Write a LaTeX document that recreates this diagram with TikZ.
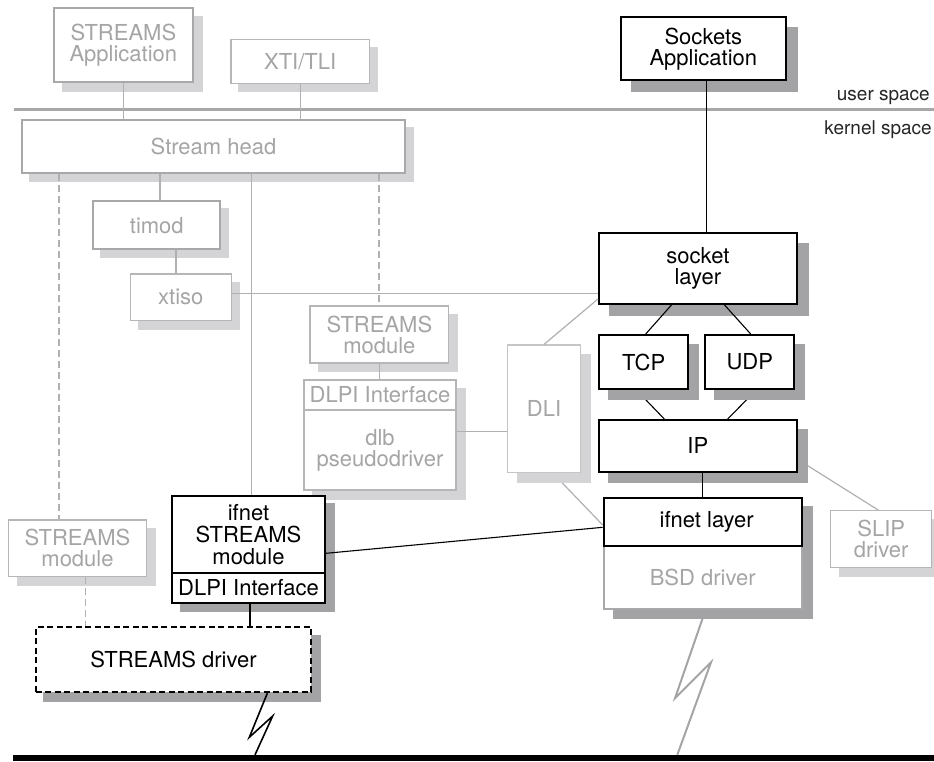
\documentclass[tikz,border=0pt]{standalone}
\usepackage{fontspec}
\setmainfont{TeX Gyre Heros}
\usetikzlibrary{calc}
\pgfdeclarelayer{bg}
\pgfdeclarelayer{shd}
\pgfsetlayers{bg,shd,main}
\definecolor{gtxt}{RGB}{165,165,167}
\definecolor{gbrd}{RGB}{168,168,170}
\definecolor{gthin}{RGB}{182,182,184}
\definecolor{lshd}{RGB}{212,212,214}
\definecolor{dshd}{RGB}{163,163,165}
\definecolor{gline}{RGB}{176,176,178}
\newcommand\myshadow[3]{\fill[#2] ([shift={(#3,#3)}]#1.north west) rectangle ([shift={(#3,#3)}]#1.south east);}
\begin{document}
\begin{tikzpicture}[x=1pt,y=-1pt,
  sz/.style 2 args={minimum width=#1pt, minimum height=#2pt},
  box/.style={draw, fill=white, inner sep=0pt, align=center, font=\fontsize{22}{21}\selectfont},
  blk/.style={box, draw=black, line width=2pt, text=black},
  gthick/.style={box, draw=gbrd, line width=2pt, text=gtxt},
  gthn/.style={box, draw=gthin, line width=1.2pt, text=gtxt},
  lbl/.style={inner sep=0pt, font=\fontsize{19}{19}\selectfont, text=black!85},
  gcon/.style={draw=gline, line width=1.2pt},
  gdash/.style={gcon, dash pattern=on 7pt off 4pt},
  bcon/.style={draw=black, line width=1.1pt},
]
\useasboundingbox (0,0) rectangle (934,761);

% nodes
\node[gthick, sz={138.7}{74}] (sapp) at (123.35,45.3) {STREAMS\\Application};
\node[gthn, sz={138.3}{44}] (xti) at (300.15,61.3) {XTI/TLI};
\node[blk, sz={164.7}{63}] (sockapp) at (703.35,48.8) {Sockets\\Application};
\node[lbl, anchor=base east] (us) at (930,100.7) {user space};
\node[lbl, anchor=base east] (ks) at (932,134) {kernel space};
\node[gthick, sz={383}{53.3}] (shead) at (213.5,146.65) {Stream head};
\node[gthick, sz={127}{47.7}] (timod) at (156.8,225.15) {timod};
\node[gthn, sz={101}{46.7}] (xtiso) at (180.8,297.35) {xtiso};
\node[gthn, sz={138.7}{57}] (smod) at (379.35,334.5) {STREAMS\\module};
\node[gthn, sz={152}{30}] (dlbtop) at (380,395) {DLPI Interface};
\node[gthn, sz={152}{80}] (dlb) at (380,450) {dlb\\pseudodriver};
\node[gthn, draw=gthin!80, sz={73.4}{127.7}] (dli) at (544,408.85) {DLI};
\node[blk, sz={197.7}{71}] (socklayer) at (697.85,268.2) {socket\\layer};
\node[blk, sz={89.3}{54.3}] (tcp) at (643.65,362.15) {TCP};
\node[blk, sz={89}{54.3}] (udp) at (749.8,362.15) {UDP};
\node[blk, sz={197.7}{51.7}] (ip) at (697.85,445.85) {IP};
\node[gthick, sz={198}{63}] (bsd) at (702.7,577.2) {BSD driver};
\node[blk, sz={198}{48}] (ifl) at (702.7,521.7) {\hspace*{8pt}ifnet layer};
\node[gthn, sz={101}{56.6}] (slip) at (881.2,539) {SLIP\\driver};
\node[gthn, sz={138.4}{56.7}] (lmod) at (77.5,548.35) {STREAMS\\module};
\node[blk, sz={153}{76.4}] (ifmod) at (248.5,534.5) {ifnet\\[1pt]STREAMS\\[1pt]module};
\node[blk, sz={153}{30.6}] (ifdlpi) at (248.5,588) {DLPI Interface};
\node[blk, dash pattern=on 6pt off 3.5pt, sz={275.6}{65}] (sdrv) at (173.5,659.8) {STREAMS driver};
\node[fill=black, inner sep=0pt, sz={920.7}{6}] (bus) at (473.65,758) {};

% shadows
\begin{pgfonlayer}{shd}
\myshadow{sapp}{lshd}{9}
\myshadow{xti}{lshd}{8}
\myshadow{sockapp}{dshd}{11}
\myshadow{shead}{lshd}{8}
\myshadow{timod}{lshd}{8}
\myshadow{xtiso}{lshd}{8.5}
\myshadow{smod}{lshd}{8.5}
\fill[lshd] ([shift={(9,9)}]dlbtop.north west) rectangle ([shift={(9,9)}]dlb.south east);
\myshadow{dli}{lshd}{10}
\myshadow{socklayer}{dshd}{11}
\myshadow{tcp}{dshd}{10}
\myshadow{udp}{dshd}{10}
\myshadow{ip}{dshd}{10}
\fill[dshd] ([shift={(10,9)}]ifl.north west) rectangle ([shift={(10,9)}]bsd.south east);
\myshadow{slip}{lshd}{8.7}
\myshadow{lmod}{lshd}{9}
\fill[dshd] ([shift={(9,8)}]ifmod.north west) rectangle ([shift={(9,8)}]ifdlpi.south east);
\myshadow{sdrv}{dshd}{8.7}
\end{pgfonlayer}

% connectors under shadows
\begin{pgfonlayer}{bg}
\draw[draw=gbrd, line width=2.4pt] (14,0 |- 0,109.3) coordinate (ul) -- (934,0 |- ul) coordinate (ur);
\draw[bcon] (636.7,0 |- tcp.south) -- (664.3,0 |- ip.north);
\draw[bcon] (755.9,0 |- udp.south) -- (727.7,0 |- ip.north);
\draw[gcon] (ip.east |- 0,459.4) -- (878.3,0 |- slip.north);
\draw[gcon] (553,0 |- dli.south) -- (ifl.west |- 0,525);
\draw[draw=gtxt, line width=2pt, line join=miter] (705.6,0 |- bsd.south) -- (675,698.3) -- (711,662.3) -- (677.3,0 |- bus.north);
\end{pgfonlayer}

% connectors over
\draw[gcon] (sapp.south) -- (sapp.south |- shead.north);
\draw[gcon] (xti.south) -- (xti.south |- shead.north);
\draw[bcon] (706.7,0 |- sockapp.south) -- (706.7,0 |- socklayer.north);
\draw[gdash] (59,0 |- shead.south) -- (59,0 |- lmod.north);
\draw[gdash] (85.7,0 |- lmod.south) -- (85.7,0 |- sdrv.north);
\draw[gdash] (379,0 |- shead.south) -- (379,0 |- smod.north);
\draw[gcon] (160,0 |- shead.south) -- (160,0 |- timod.north);
\draw[gcon] (176,0 |- timod.south) -- (176,0 |- xtiso.north);
\draw[gcon] (251.7,0 |- shead.south) -- (251.7,0 |- ifmod.north);
\draw[gcon] (smod.south) -- (smod.south |- dlbtop.north);
\draw[gcon] (dlb.east |- 0,431.5) -- (dli.west |- 0,431.5);
\draw[gcon] (xtiso.east |- 0,293.3) -- (socklayer.west |- 0,293.3);
\draw[gcon] ([yshift=5.7pt]socklayer.south west) -- (dli.north);
\draw[bcon] (671.7,0 |- socklayer.south) -- (645.7,0 |- tcp.north);
\draw[bcon] (724.3,0 |- socklayer.south) -- (750.7,0 |- udp.north);
\draw[bcon] (ifl.north |- ip.south) -- (ifl.north);
\draw[bcon] (ifmod.east |- 0,553.3) -- (ifl.west |- 0,527.3);
\draw[draw=black, line width=2pt] (250,0 |- ifdlpi.south) -- (250,0 |- sdrv.north);
\draw[draw=black, line width=1.6pt, line join=miter] (267.3,0 |- sdrv.south) -- (249.3,737.3) -- (272.7,716) -- (255,0 |- bus.north);
\end{tikzpicture}
\end{document}
